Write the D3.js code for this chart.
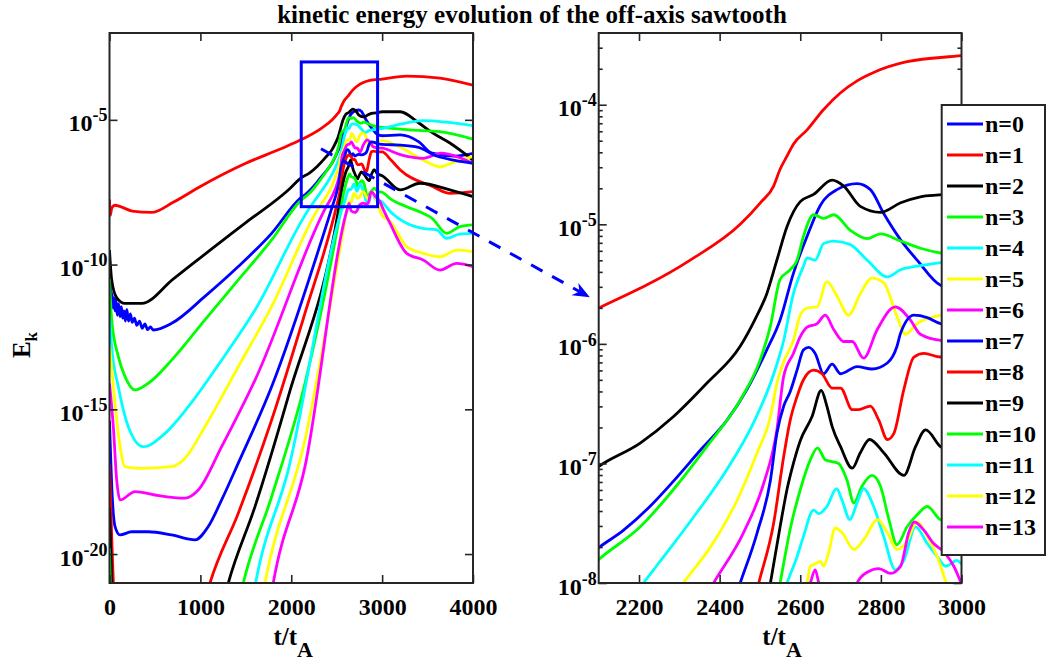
<!DOCTYPE html>
<html>
<head>
<meta charset="utf-8">
<script src="https://cdn.jsdelivr.net/npm/d3@7"></script>
<style>
  body { margin: 0; background: #fff; }
</style>
</head>
<body>
<svg id="chart" width="1047" height="664" font-family="Liberation Serif, Times New Roman, serif" font-weight="bold"></svg>
<script>
// kinetic energy of each toroidal mode, [t/tA, log10(Ek)]
const ek0 = [[0,-10.0],[15,-10.9],[30,-11.1],[40,-11.5],[50,-11.15],[60,-11.6],[70,-11.2],[85,-11.75],[100,-11.35],[115,-11.8],[130,-11.45],[145,-11.85],[160,-11.6],[175,-11.95],[190,-11.55],[210,-11.95],[230,-11.7],[250,-12.0],[275,-11.85],[300,-12.1],[330,-11.95],[360,-12.2],[390,-12.05],[420,-12.25],[450,-12.15],[480,-12.26],[684,-12.03],[1050,-11.1],[1417,-10.07],[1784,-8.92],[2098,-7.71],[2161,-7.56],[2227,-7.36],[2285,-7.15],[2352,-6.89],[2418,-6.64],[2468,-6.38],[2517,-6.05],[2550,-5.80],[2583,-5.41],[2617,-5.10],[2650,-4.84],[2691,-4.71],[2741,-4.66],[2774,-4.71],[2807,-4.91],[2849,-5.13],[2890,-5.30],[2948,-5.51],[3000,-5.55],[3200,-5.52],[3400,-5.75],[3550,-6.15],[3800,-6.25],[4000,-6.16]];
const ek1 = [[0,-7.75],[8,-8.3],[25,-8.05],[60,-7.95],[120,-8.0],[250,-8.15],[464,-8.2],[700,-7.85],[1000,-7.3],[1500,-6.5],[1900,-5.98],[2100,-5.70],[2327,-5.30],[2451,-5.0],[2501,-4.82],[2534,-4.68],[2550,-4.54],[2567,-4.43],[2583,-4.33],[2617,-4.21],[2658,-4.04],[2700,-3.90],[2741,-3.80],[2782,-3.73],[2865,-3.64],[3000,-3.59],[3270,-3.49],[3636,-3.56],[4000,-3.8]];
const ek2 = [[0,-9.5],[24,-10.53],[80,-11.15],[170,-11.34],[354,-11.34],[700,-10.5],[1100,-9.52],[1500,-8.55],[1986,-7.37],[2098,-7.03],[2203,-6.83],[2285,-6.61],[2368,-6.33],[2451,-6.02],[2490,-5.78],[2517,-5.58],[2542,-5.30],[2567,-5.02],[2600,-4.81],[2633,-4.75],[2679,-4.63],[2708,-4.68],[2749,-4.85],[2799,-4.90],[2849,-4.82],[2898,-4.77],[2956,-4.75],[3000,-4.72],[3200,-4.72],[3400,-5.1],[3560,-5.46],[3750,-5.81],[4000,-6.39]];
const ek3 = [[0,-10.5],[24,-11.91],[97,-13.18],[171,-13.87],[281,-14.33],[427,-14.1],[684,-13.3],[1050,-11.91],[1417,-10.53],[1784,-9.15],[2098,-7.81],[2203,-7.53],[2285,-7.22],[2368,-6.86],[2451,-6.47],[2501,-6.13],[2526,-5.85],[2550,-5.46],[2575,-5.38],[2592,-5.30],[2608,-5.10],[2633,-4.92],[2658,-4.95],[2683,-4.92],[2724,-5.05],[2766,-5.12],[2799,-5.08],[2849,-5.14],[2898,-5.20],[2948,-5.24],[3000,-5.26],[3300,-5.35],[3636,-5.41],[4000,-5.67]];
const ek4 = [[0,-11.8],[24,-12.84],[97,-14.22],[207,-15.6],[372,-16.29],[611,-15.83],[867,-14.91],[1234,-13.3],[1601,-11.57],[2211,-8.0],[2252,-7.82],[2335,-7.45],[2418,-7.05],[2484,-6.66],[2526,-6.33],[2559,-5.97],[2583,-5.58],[2608,-5.35],[2617,-5.28],[2637,-5.30],[2658,-5.16],[2683,-5.14],[2724,-5.17],[2766,-5.30],[2816,-5.44],[2849,-5.38],[2890,-5.35],[2948,-5.32],[3000,-5.30],[3200,-5.15],[3450,-5.03],[3700,-5.08],[4000,-5.2]];
const ek5 = [[0,-12.8],[42,-14.2],[97,-15.83],[171,-16.98],[317,-17.04],[684,-16.98],[831,-16.69],[1050,-15.6],[1417,-13.53],[1784,-11.45],[2310,-8.0],[2377,-7.70],[2443,-7.31],[2493,-6.91],[2526,-6.61],[2542,-6.33],[2559,-6.15],[2583,-5.97],[2600,-5.76],[2617,-5.70],[2642,-5.69],[2666,-5.48],[2691,-5.60],[2720,-5.76],[2749,-5.58],[2778,-5.45],[2807,-5.49],[2840,-5.77],[2861,-5.92],[2890,-5.83],[2948,-5.76],[3000,-5.72],[3200,-5.95],[3450,-6.39],[3636,-6.62],[3800,-6.45],[4000,-6.27]];
const ek6 = [[0,-14.1],[42,-15.6],[79,-17.44],[116,-18.13],[281,-17.84],[501,-17.96],[831,-18.07],[977,-17.79],[1234,-16.29],[1601,-13.99],[2385,-8.0],[2459,-7.58],[2509,-7.17],[2542,-6.72],[2559,-6.27],[2583,-6.08],[2600,-5.94],[2617,-5.86],[2642,-5.83],[2662,-5.76],[2683,-5.88],[2708,-5.98],[2729,-5.98],[2757,-6.12],[2791,-5.88],[2836,-5.69],[2873,-5.80],[2898,-5.92],[2948,-5.97],[3000,-5.98],[3200,-6.2],[3450,-6.33],[3650,-6.15],[3850,-6.3],[4000,-6.5]];
const ek7 = [[0,-15.4],[30,-18.0],[61,-19.05],[116,-19.34],[244,-19.23],[428,-19.23],[684,-19.34],[941,-19.51],[1087,-19.05],[1234,-18.13],[1417,-16.86],[1784,-14.22],[2451,-8.0],[2493,-7.58],[2526,-7.14],[2542,-6.75],[2559,-6.52],[2575,-6.40],[2592,-6.22],[2608,-6.05],[2621,-6.03],[2637,-6.08],[2658,-6.25],[2679,-6.17],[2700,-6.25],[2741,-6.19],[2778,-6.21],[2816,-6.16],[2840,-6.02],[2849,-5.91],[2882,-5.76],[2915,-5.78],[2948,-5.83],[3000,-5.85],[3200,-5.87],[3400,-5.95],[3600,-6.25],[3800,-6.4],[4000,-6.5]];
const ek8 = [[0,-16.9],[25,-19.5],[70,-22],[1000,-22.2],[1106,-21],[1417,-18.59],[1784,-15.37],[2151,-11.68],[2497,-8.0],[2534,-7.5],[2559,-6.94],[2575,-6.64],[2592,-6.44],[2608,-6.30],[2633,-6.22],[2654,-6.25],[2679,-6.37],[2700,-6.37],[2729,-6.55],[2745,-6.55],[2774,-6.52],[2795,-6.64],[2816,-6.80],[2832,-6.75],[2857,-6.38],[2882,-6.11],[2907,-6.08],[2948,-6.11],[3000,-6.11],[3100,-6.4],[3200,-6.73],[3560,-7.31],[3750,-7.54],[4000,-7.48]];
const ek9 = [[0,-18.4],[15,-20],[50,-22],[1200,-22.3],[1307,-21],[1601,-18.36],[1967,-14.56],[2526,-8.0],[2550,-7.53],[2567,-7.22],[2583,-7.0],[2600,-6.81],[2629,-6.61],[2652,-6.39],[2666,-6.52],[2679,-6.69],[2700,-6.86],[2729,-7.04],[2749,-6.91],[2772,-6.80],[2807,-6.91],[2857,-7.10],[2886,-6.86],[2911,-6.72],[2948,-6.86],[3000,-6.93],[3200,-7.42],[3416,-7.19],[3746,-7.42],[4000,-7.65]];
const ek10 = [[0,-19.8],[20,-22],[1380,-22.3],[1472,-21],[1784,-18.02],[2151,-14.1],[2550,-8.0],[2575,-7.55],[2600,-7.22],[2625,-6.97],[2643,-6.87],[2662,-6.97],[2695,-7.0],[2716,-7.14],[2733,-7.33],[2753,-7.19],[2778,-7.10],[2799,-7.19],[2820,-7.47],[2840,-7.68],[2865,-7.53],[2890,-7.43],[2915,-7.36],[2948,-7.47],[3000,-7.5],[3100,-7.75],[3270,-8.0],[3450,-8.23],[3550,-8.4],[3709,-8.92],[3856,-8.69],[4000,-8.63]];
const ek11 = [[0,-23],[1500,-23],[1608,-21],[1967,-17.1],[2567,-8.0],[2592,-7.78],[2608,-7.61],[2633,-7.39],[2646,-7.42],[2666,-7.36],[2690,-7.21],[2704,-7.31],[2723,-7.47],[2741,-7.33],[2757,-7.21],[2782,-7.36],[2807,-7.61],[2836,-7.89],[2857,-7.81],[2886,-7.53],[2915,-7.67],[2940,-7.78],[2961,-7.86],[2989,-7.81],[3000,-7.84],[3100,-8.2],[3270,-8.57],[3450,-8.75],[3600,-8.8],[3709,-9.09],[3850,-8.95],[4000,-8.92]];
const ek12 = [[0,-23],[1600,-23],[1711,-21],[2151,-16.06],[2617,-8.0],[2625,-7.86],[2637,-7.84],[2650,-7.82],[2658,-7.86],[2670,-7.75],[2687,-7.54],[2704,-7.58],[2733,-7.72],[2757,-7.64],[2792,-7.47],[2816,-7.58],[2840,-7.72],[2861,-7.67],[2890,-7.49],[2915,-7.61],[2940,-7.78],[2961,-7.99],[3000,-8.3],[3086,-8.5],[3270,-9.38],[3452,-9.61],[3636,-9.73],[3820,-9.5],[4000,-9.55]];
const ek13 = [[0,-23],[1700,-23],[1802,-21],[2151,-16.98],[2625,-8.0],[2637,-7.89],[2646,-8.0],[2660,-8.15],[2700,-8.2],[2730,-8.1],[2741,-8.0],[2766,-7.91],[2795,-7.88],[2824,-7.92],[2849,-7.86],[2869,-7.58],[2883,-7.49],[2907,-7.56],[2931,-7.67],[2956,-7.74],[2981,-7.86],[2998,-7.99],[3086,-8.57],[3270,-9.61],[3452,-9.84],[3636,-10.19],[3820,-9.96],[4000,-10.07]];

const series = [ek0, ek1, ek2, ek3, ek4, ek5, ek6, ek7, ek8, ek9, ek10, ek11, ek12, ek13];
const modeLabels = series.map((d, i) => "n=" + i);
const lineColors = ["#0000ff", "#ff0000", "#000000", "#00ff00", "#00ffff", "#ffff00", "#ff00ff"];

// tick values
const fullTimeTicks = [0, 1000, 2000, 3000, 4000];
const fullEnergyTicks = [1e-20, 1e-15, 1e-10, 1e-5];
const zoomTimeTicks = [2200, 2400, 2600, 2800, 3000];
const zoomEnergyTicks = [1e-8, 1e-7, 1e-6, 1e-5, 1e-4];

// zoom window marked on the full view
const zoomWindowT = [2110, 2950];
const zoomWindowE = [1e-8, 1e-3];

const svg = d3.select("#chart");
const axisColor = "#262626";

svg.append("text")
  .attr("x", 532).attr("y", 23)
  .attr("text-anchor", "middle")
  .attr("font-size", 25)
  .text("kinetic energy evolution of the off-axis sawtooth");

function drawPanel(cfg) {
  const x = d3.scaleLinear().domain(cfg.xDomain).range([cfg.left, cfg.right]);
  const y = d3.scaleLog().domain(cfg.yDomain).range([cfg.bottom, cfg.top]);
  const g = svg.append("g");

  g.append("clipPath").attr("id", cfg.id)
    .append("rect")
    .attr("x", cfg.left).attr("y", cfg.top)
    .attr("width", cfg.right - cfg.left).attr("height", cfg.bottom - cfg.top);

  const line = d3.line()
    .x(d => x(d[0]))
    .y(d => y(Math.pow(10, d[1])))
    .curve(d3.curveMonotoneX);

  g.append("g").attr("clip-path", `url(#${cfg.id})`)
    .selectAll("path")
    .data(series)
    .join("path")
    .attr("d", line)
    .attr("fill", "none")
    .attr("stroke", (d, i) => lineColors[i % lineColors.length])
    .attr("stroke-width", 2.8)
    .attr("stroke-linejoin", "round");

  // box
  g.append("rect")
    .attr("x", cfg.left).attr("y", cfg.top)
    .attr("width", cfg.right - cfg.left).attr("height", cfg.bottom - cfg.top)
    .attr("fill", "none").attr("stroke", axisColor).attr("stroke-width", 2);

  const styleAxis = sel => {
    sel.select(".domain").remove();
    sel.attr("color", axisColor).attr("font-size", 24).attr("font-family", null);
    sel.selectAll(".tick line").attr("stroke-width", 1.6);
    sel.selectAll(".tick text").attr("fill", "#000");
  };

  g.append("g").attr("transform", `translate(0,${cfg.bottom})`)
    .call(d3.axisBottom(x).tickValues(cfg.xTicks).tickSize(-8).tickSizeOuter(0)
      .tickPadding(15).tickFormat(d3.format("d")))
    .call(styleAxis);
  g.append("g").attr("transform", `translate(0,${cfg.top})`)
    .call(d3.axisTop(x).tickValues(cfg.xTicks).tickSize(-8).tickSizeOuter(0).tickFormat(""))
    .call(styleAxis);

  g.append("g").attr("transform", `translate(${cfg.left},0)`)
    .call(d3.axisLeft(y).tickValues(cfg.yTicks).tickSize(-8).tickSizeOuter(0).tickPadding(2))
    .call(styleAxis)
    .selectAll(".tick text")
    .attr("dy", "0.46em")
    .each(function (d) {
      const t = d3.select(this).text(null);
      t.append("tspan").text("10");
      t.append("tspan").attr("dy", "-0.55em").attr("font-size", 18)
        .text(Math.round(Math.log10(d)));
    });
  g.append("g").attr("transform", `translate(${cfg.right},0)`)
    .call(d3.axisRight(y).tickValues(cfg.yTicks).tickSize(-8).tickSizeOuter(0).tickFormat(""))
    .call(styleAxis);

  if (cfg.minor) {
    const [lo, hi] = cfg.yDomain;
    const minorTicks = [];
    for (let e = Math.floor(Math.log10(lo)); e <= Math.ceil(Math.log10(hi)); e++) {
      for (let m = 2; m <= 9; m++) {
        const v = m * Math.pow(10, e);
        if (v > lo && v < hi) minorTicks.push(v);
      }
    }
    g.append("g").attr("transform", `translate(${cfg.left},0)`)
      .call(d3.axisLeft(y).tickValues(minorTicks).tickSize(-4).tickSizeOuter(0).tickFormat(""))
      .call(styleAxis);
    g.append("g").attr("transform", `translate(${cfg.right},0)`)
      .call(d3.axisRight(y).tickValues(minorTicks).tickSize(-4).tickSizeOuter(0).tickFormat(""))
      .call(styleAxis);
  }

  // x label t/tA
  const xl = g.append("text")
    .attr("x", (cfg.left + cfg.right) / 2 + 2).attr("y", 645)
    .attr("text-anchor", "middle").attr("font-size", 25);
  xl.append("tspan").text("t/t");
  xl.append("tspan").attr("dy", 12).attr("font-size", 22).text("A");

  return { x, y, g };
}

const full = drawPanel({
  id: "clip-full", left: 109.5, right: 473, top: 33, bottom: 583,
  xDomain: [0, 4000], yDomain: [1e-21, 1e-2],
  xTicks: fullTimeTicks, yTicks: fullEnergyTicks, minor: false
});
const zoom = drawPanel({
  id: "clip-zoom", left: 598.7, right: 961.5, top: 33, bottom: 583,
  xDomain: [2100, 3000], yDomain: [1e-8, Math.pow(10, -3.4)],
  xTicks: zoomTimeTicks, yTicks: zoomEnergyTicks, minor: true
});

// y label
const yl = svg.append("text")
  .attr("transform", "translate(30,345) rotate(-90)")
  .attr("text-anchor", "middle").attr("font-size", 25);
yl.append("tspan").text("E");
yl.append("tspan").attr("dy", 7).attr("font-size", 17).text("k");

// zoom window on full view
full.g.append("rect")
  .attr("x", full.x(zoomWindowT[0])).attr("y", full.y(zoomWindowE[1]))
  .attr("width", full.x(zoomWindowT[1]) - full.x(zoomWindowT[0]))
  .attr("height", full.y(zoomWindowE[0]) - full.y(zoomWindowE[1]))
  .attr("fill", "none").attr("stroke", "#0000ff").attr("stroke-width", 3);

// dashed arrow from the window to the zoomed panel
const ax0 = full.x(2327), ay0 = full.y(1e-6);
const ax1 = zoom.x(2078), ay1 = zoom.y(Math.pow(10, -5.61));
const ang = Math.atan2(ay1 - ay0, ax1 - ax0);
const headLen = 17;
svg.append("line")
  .attr("x1", ax0).attr("y1", ay0)
  .attr("x2", ax1 - headLen * 0.7 * Math.cos(ang)).attr("y2", ay1 - headLen * 0.7 * Math.sin(ang))
  .attr("stroke", "#0000ff").attr("stroke-width", 3).attr("stroke-dasharray", "13,11");
const head = [
  [0, 0], [-headLen, -7], [-headLen * 0.7, 0], [-headLen, 7]
];
svg.append("polygon")
  .attr("points", head.map(p => p.join(",")).join(" "))
  .attr("transform", `translate(${ax1},${ay1}) rotate(${ang * 180 / Math.PI})`)
  .attr("fill", "#0000ff");

// legend
const legend = svg.append("g");
legend.append("rect")
  .attr("x", 941.7).attr("y", 105).attr("width", 103.3).attr("height", 450)
  .attr("fill", "#fff").attr("stroke", axisColor).attr("stroke-width", 2);
const rowY = d3.scalePoint().domain(modeLabels).range([124, 527]);
const rows = legend.selectAll("g.row").data(modeLabels).join("g").attr("class", "row")
  .attr("transform", d => `translate(0,${rowY(d)})`);
rows.append("line")
  .attr("x1", 947).attr("x2", 983)
  .attr("stroke", (d, i) => lineColors[i % lineColors.length]).attr("stroke-width", 2.8);
rows.append("text")
  .attr("x", 985).attr("y", 8).attr("font-size", 24)
  .text(d => d);
</script>
</body>
</html>
